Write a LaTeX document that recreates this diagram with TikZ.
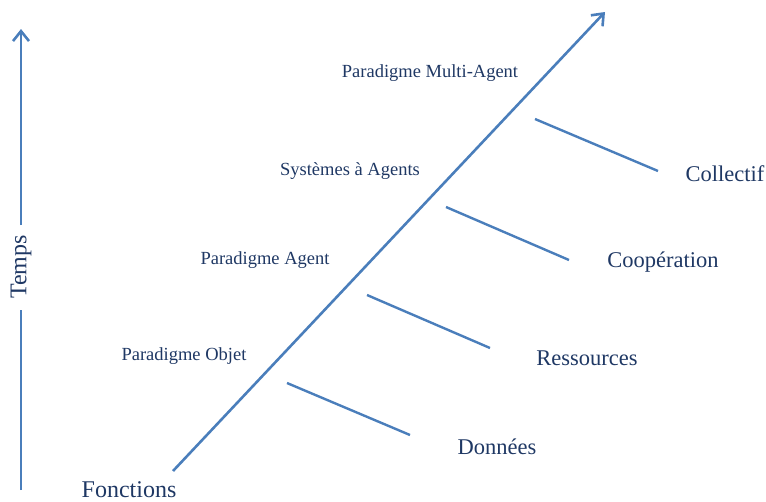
\documentclass[tikz,border=0pt]{standalone}
\usepackage{fontspec}
\setmainfont{Liberation Serif}
\usetikzlibrary{arrows.meta}
\definecolor{lineblue}{HTML}{4A7EBB}
\definecolor{textblue}{HTML}{1F3864}
\tikzset{
  axis/.style={draw=lineblue, line width=2.6pt},
  branch/.style={draw=lineblue, line width=2.4pt},
  tip/.style={-{Straight Barb[length=10pt,width=16pt,line width=2.6pt]}},
  biglabel/.style={text=textblue, font=\fontsize{22.5}{24}\selectfont, inner sep=0pt},
  smalllabel/.style={text=textblue, font=\fontsize{18.5}{20}\selectfont, inner sep=0pt},
}
\begin{document}
\begin{tikzpicture}[x=1pt,y=-1pt]
\useasboundingbox (0,0) rectangle (766,501);
% main diagonal axis
\coordinate (s) at (173,471);
\coordinate (e) at (605,12);
\draw[axis, tip] (s) -- (e);
% time axis
\node[biglabel, rotate=90, font=\fontsize{24}{26}\selectfont] (temps) at (21,267) {Temps};
\coordinate (tbot) at (21,490);
\coordinate (tlow) at (21,310);
\coordinate (thigh) at (21,225);
\coordinate (ttop) at (21,29);
\draw[axis] (tbot) -- (tlow);
\draw[axis, tip] (thigh) -- (ttop);
% branches
\coordinate (b1s) at (287,383); \coordinate (b1e) at (410,435);
\coordinate (b2s) at (367,295); \coordinate (b2e) at (490,348);
\coordinate (b3s) at (446,207); \coordinate (b3e) at (569,260);
\coordinate (b4s) at (535,119); \coordinate (b4e) at (658,171);
\draw[branch] (b1s) -- (b1e);
\draw[branch] (b2s) -- (b2e);
\draw[branch] (b3s) -- (b3e);
\draw[branch] (b4s) -- (b4e);
% right labels
\node[biglabel] (donnees) at (497,447) {Données};
\node[biglabel] (ressources) at (587,358) {Ressources};
\node[biglabel] (coop) at (663,262) {Coopération};
\node[biglabel] (collectif) at (725,174) {Collectif};
\node[biglabel, font=\fontsize{24}{26}\selectfont, anchor=base] (fonctions) at (129,497) {Fonctions};
% left labels
\node[smalllabel] (pobjet) at (184,356) {Paradigme Objet};
\node[smalllabel] (pagent) at (265,260) {Paradigme Agent};
\node[smalllabel] (sagents) at (350,171) {Systèmes à Agents};
\node[smalllabel] (pmulti) at (430,73) {Paradigme Multi-Agent};
\end{tikzpicture}
\end{document}
